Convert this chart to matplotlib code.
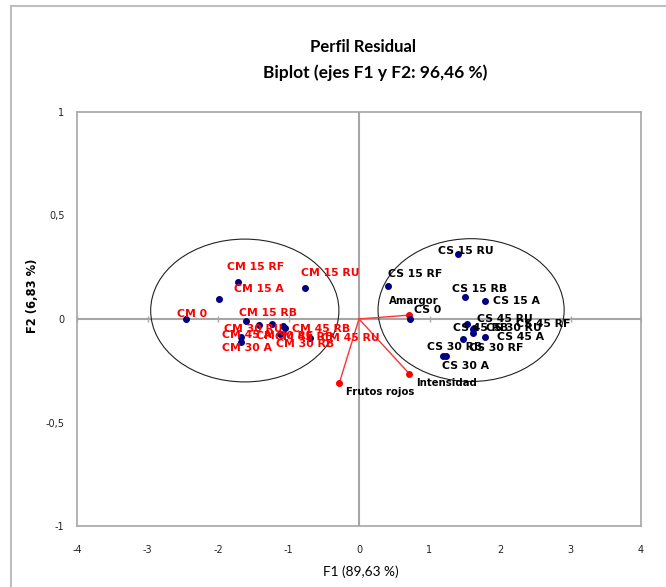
import matplotlib
matplotlib.use("Agg")
import matplotlib.pyplot as plt
from matplotlib.patches import Ellipse

# observaciones CM (rojo) y CS (negro): coordenadas F1, F2
cm_labels = ["CM 0", "CM 15 RF", "CM 15 A", "CM 15 RU", "CM 15 RB", "CM 30 RU", "CM 30 RF",
             "CM 45 RB", "CM 45 RF", "CM 45 A", "CM 30 A", "CM 45 RU", "CM 30 RB"]
cm_f1 = [-2.45, -1.71, -1.98, -0.77, -1.60, -1.42, -1.23, -1.075, -1.12, -1.67, -1.67, -0.69, -1.05]
cm_f2 = [0.00, 0.179, 0.095, 0.148, -0.008, -0.028, -0.023, -0.035, -0.072, -0.089, -0.11, -0.092, -0.045]

cs_labels = ["CS 15 RU", "CS 15 RF", "CS 15 RB", "CS 15 A", "CS 0", "CS 45 RU", "CS 45 RB",
             "CS 30 RU", "CS 45 A", "CS 30 RB", "CS 30 A", "CS 30 RF", "CS 45 RF"]
cs_f1 = [1.40, 0.415, 1.50, 1.79, 0.72, 1.525, 1.62, 1.62, 1.79, 1.48, 1.195, 1.235, 1.63]
cs_f2 = [0.313, 0.161, 0.106, 0.085, 0.0, -0.026, -0.05, -0.069, -0.087, -0.098, -0.179, -0.179, -0.045]

# variables
var_labels = ["Amargor", "Intensidad", "Frutos rojos"]
var_f1 = [0.715, 0.715, -0.28]
var_f2 = [0.019, -0.265, -0.31]

# elipses de grupo: centro, ancho, alto
ell_cx = [-1.62, 1.59]
ell_cy = [0.041, 0.043]
ell_w = [2.67, 2.64]
ell_h = [0.69, 0.69]

xticks = [-4, -3, -2, -1, 0, 1, 2, 3, 4]
yticks = [-1, -0.5, 0, 0.5, 1]

# desplazamiento de etiquetas (pixeles)
cm_off = [(6, 5), (17, 15), (39, 10), (26, 15), (22, 8), (-6, -4), (12, -12),
          (38, -3), (24, -3), (6, 2), (6, -6), (40, 0), (20, -16)]
cs_off = [(8, 3), (27, 12), (15, 8), (31, 0), (18, 9), (38, 5), (7, 1),
          (41, 5), (35, 0), (-9, -8), (22, -10), (50, 8), (69, 4)]
var_off = [(4, 14), (37, -9), (41, -9)]

W, H = 666, 587
fig = plt.figure(figsize=(W / 100, H / 100), dpi=100)
ax = fig.add_axes([77 / W, 1 - 526 / H, (641 - 77) / W, (526 - 112) / H])
ax.set_xlim(-4, 4)
ax.set_ylim(-1, 1)

grey = "#a6a6a6"
for s in ax.spines.values():
    s.set_color(grey)
    s.set_linewidth(1.2)

ax.axhline(0, color=grey, lw=1.5, zorder=1)
ax.axvline(0, color=grey, lw=1.5, zorder=1)
ax.plot(xticks, [0] * len(xticks), ls="none", marker="|", ms=5, color=grey, mew=1, zorder=1)

ax.set_xticks(xticks)
ax.set_yticks(yticks)
ax.set_xticklabels([str(t) for t in xticks])
ax.set_yticklabels([str(t).replace(".", ",") for t in yticks])
ax.tick_params(length=0, labelsize=7, labelcolor="#222222")
ax.tick_params(axis="x", pad=14)
ax.tick_params(axis="y", pad=9)

for cx, cy, w, h in zip(ell_cx, ell_cy, ell_w, ell_h):
    ax.add_patch(Ellipse((cx, cy), w, h, fill=False, ec="#222222", lw=0.8, zorder=2))

for x, y in zip(var_f1, var_f2):
    ax.plot([0, x], [0, y], color="#ff3333", lw=1, zorder=3)
ax.plot(var_f1, var_f2, "o", color="#ff0000", ms=4, zorder=4)

ax.plot(cm_f1, cm_f2, "o", color="#000080", ms=4, zorder=4)
ax.plot(cs_f1, cs_f2, "o", color="#000080", ms=4, zorder=4)

lab = dict(textcoords="offset pixels", ha="center", va="center",
           fontsize=7.8, fontweight="bold", zorder=5)
for t, x, y, o in zip(cm_labels, cm_f1, cm_f2, cm_off):
    ax.annotate(t, (x, y), xytext=o, color="#ff0000", **lab)
for t, x, y, o in zip(cs_labels, cs_f1, cs_f2, cs_off):
    ax.annotate(t, (x, y), xytext=o, color="#000000", **lab)
for t, x, y, o in zip(var_labels, var_f1, var_f2, var_off):
    ax.annotate(t, (x, y), xytext=o, color="#000000",
                **{**lab, "fontsize": 7.3})

fig.text(363 / W, 1 - 47 / H, "Perfil Residual", ha="center", va="center",
         family="Lato", fontweight="bold", fontsize=12)
fig.text(375 / W, 1 - 73 / H, "Biplot (ejes F1 y F2: 96,46 %)", ha="center", va="center",
         family="Lato", fontweight="bold", fontsize=12.5)
fig.text(361 / W, 1 - 572 / H, "F1 (89,63 %)", ha="center", va="center",
         family="Lato", fontsize=9.8)
fig.text(33 / W, 1 - 296 / H, "F2 (6,83 %)", ha="center", va="center", rotation=90,
         fontweight="bold", fontsize=8.3)

# marco exterior del grafico
fig.add_artist(plt.Line2D([11 / W, 11 / W], [0, 1 - 6 / H], color="#bfbfbf", lw=1.5))
fig.add_artist(plt.Line2D([11 / W, 1], [1 - 6 / H, 1 - 6 / H], color="#bfbfbf", lw=1.5))

fig.savefig("out.png", dpi=100)
